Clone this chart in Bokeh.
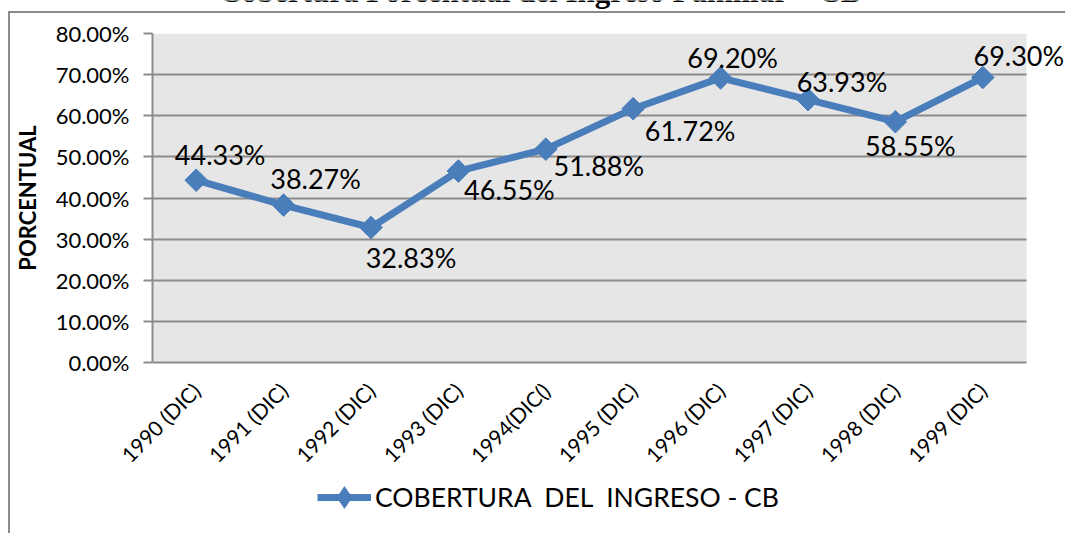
import math
from bokeh.plotting import figure
from bokeh.layouts import column
from bokeh.models import (ColumnDataSource, Label, LabelSet, Legend, LegendItem,
                          PrintfTickFormatter, FixedTicker, Range1d, BoxAnnotation)
from bokeh.core.properties import value
from bokeh.embed import file_html
from bokeh.resources import INLINE

# ---------------- data ----------------
categories = ["1990 (DIC)", "1991 (DIC)", "1992 (DIC)", "1993 (DIC)", "1994(DIC()",
              "1995 (DIC)", "1996 (DIC)", "1997 (DIC)", "1998 (DIC)", "1999 (DIC)"]
values = [44.33, 38.27, 32.83, 46.55, 51.88, 61.72, 69.20, 63.93, 58.55, 69.30]
y_ticks = [0, 10, 20, 30, 40, 50, 60, 70, 80]
series_name = "COBERTURA  DEL  INGRESO - CB"
title_text = "Cobertura Porcentual del Ingreso Familiar \u2013 CB"

# label offsets (screen px; dx right, dy up)
label_dx = [24, 32, 40, 51, 53, 57, 12, 34, 15, 36]
label_dy = [26, 27, -30, -18, -16, -22, 20, 18, -24, 22]

FONT = "Lato"
BLUE = "#4a7ebb"
GRID = "#8c8c8c"

n = len(categories)
xpos = [i + 0.5 for i in range(n)]
src = ColumnDataSource(dict(
    x=xpos, y=values,
    lbl=[f"{v:.2f}%" for v in values],
    dx=label_dx, dy=label_dy,
))

W, H = 1065, 533
H0 = 12                                       # title strip
H1 = 468                                      # main figure
H2 = H - H0 - H1                              # legend strip
FL, FR = 152, 1026                            # plot-area x pixels (page)
FT, FB = 33 - H0, 362 - H0                    # plot-area y pixels (in main fig)
px_x = (FR - FL) / n
px_y = (FB - FT) / 80.0
x_end = (W - FL) / px_x

common = dict(output_backend="svg", toolbar_location=None,
              background_fill_alpha=0, border_fill_alpha=0, outline_line_color=None)

# ---------------- title strip ----------------
p0 = figure(x_range=Range1d(0, W - FL), y_range=Range1d(0, H0), width=W, height=H0,
            x_axis_type=None, y_axis_type=None, min_border=0, **common)
p0.xgrid.visible = False
p0.ygrid.visible = False
title = Label(x=540 - FL, y=H0 + 9, text=title_text, text_align="center",
              text_baseline="alphabetic", text_font="Liberation Serif",
              text_font_style="bold", text_font_size="31px", text_color="black")
p0.add_layout(title)

# ---------------- main chart ----------------
p = figure(x_range=Range1d(0, x_end), y_range=Range1d(0, 80), width=W, height=H1,
           min_border_left=FL, min_border_right=0,
           min_border_top=FT, min_border_bottom=H1 - FB, **common)

area = BoxAnnotation(left=0, right=n, bottom=0, top=80, fill_color="#e6e6e6",
                     fill_alpha=1, line_color=None, level="underlay")
p.center = [area] + list(p.center)

p.yaxis.ticker = FixedTicker(ticks=y_ticks)
p.yaxis.formatter = PrintfTickFormatter(format="%.2f%%")
p.yaxis.major_label_text_font = FONT
p.yaxis.major_label_text_font_size = "22px"
p.yaxis.major_label_text_color = "black"
p.yaxis.major_label_standoff = 14
p.yaxis.major_tick_out = 9
p.yaxis.major_tick_in = 0
p.yaxis.minor_tick_line_color = None
p.yaxis.major_tick_line_color = GRID
p.yaxis.major_tick_line_width = 2
p.yaxis.axis_line_color = GRID
p.yaxis.axis_line_width = 2
p.yaxis.axis_label = "PORCENTUAL"
p.yaxis.axis_label_text_font = FONT
p.yaxis.axis_label_text_font_style = "bold"
p.yaxis.axis_label_text_font_size = "22px"
p.yaxis.axis_label_text_color = "black"
p.yaxis.axis_label_standoff = 12

p.xaxis.ticker = FixedTicker(ticks=xpos)
p.xaxis.major_label_overrides = {x: c for x, c in zip(xpos, categories)}
p.xaxis.bounds = (0, n)
p.xaxis.major_label_orientation = math.pi / 4
p.xaxis.major_label_text_font = FONT
p.xaxis.major_label_text_font_size = "21px"
p.xaxis.major_label_text_color = "black"
p.xaxis.major_tick_line_color = None
p.xaxis.minor_tick_line_color = None
p.xaxis.axis_line_color = GRID
p.xaxis.axis_line_width = 2
p.xaxis.major_label_standoff = 18

p.xgrid.grid_line_color = None
p.ygrid.ticker = FixedTicker(ticks=y_ticks)
p.ygrid.grid_line_color = GRID
p.ygrid.grid_line_width = 2
p.ygrid.cross_bounds = (0, n)

ln = p.line("x", "y", source=src, line_color=BLUE, line_width=7)
mk = p.scatter("x", "y", source=src, marker="square", angle=math.pi / 4, size=16,
               fill_color=BLUE, line_color=BLUE)

labels = LabelSet(x="x", y="y", text="lbl", source=src, x_offset="dx", y_offset="dy",
                  text_align="center", text_baseline="middle",
                  text_font=value(FONT), text_font_size=value("27px"), text_color="black")
p.add_layout(labels)

# ---------------- legend strip ----------------
# the legend's proxy renderers use the same data, kept outside this strip's ranges
p2 = figure(x_range=Range1d(0, W - FL), y_range=Range1d(-200, -200 + H2), width=W, height=H2,
            x_axis_type=None, y_axis_type=None, min_border=0, **common)
p2.xgrid.visible = False
p2.ygrid.visible = False
ln2 = p2.line("x", "y", source=src, line_color=BLUE, line_width=7)
mk2 = p2.scatter("x", "y", source=src, marker="diamond", size=16,
                 fill_color=BLUE, line_color=BLUE)
legend = Legend(items=[LegendItem(label=series_name, renderers=[ln2, mk2])],
                location=(317 - FL, 9), orientation="horizontal",
                background_fill_alpha=0, border_line_color=None,
                label_text_font=FONT, label_text_font_size="26.5px",
                label_text_color="black",
                glyph_width=54, glyph_height=54, label_standoff=4,
                padding=0, margin=0)
p2.add_layout(legend)

layout = column(p0, p, p2, spacing=0,
                styles={"background":
                        "linear-gradient(#8c8c8c,#8c8c8c) 8px 11px / 2px 700px no-repeat,"
                        "linear-gradient(#8c8c8c,#8c8c8c) 8px 11px / 1200px 2px no-repeat"})

open("out.html", "w").write(file_html(layout, INLINE))
